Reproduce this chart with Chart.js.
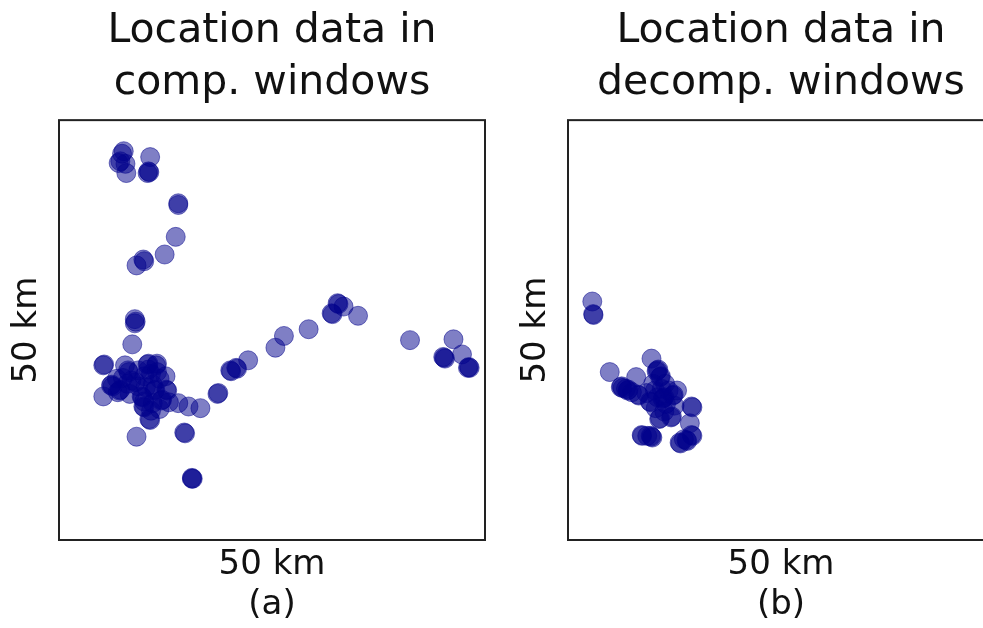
<!DOCTYPE html>
<html>
<head>
<meta charset="utf-8">
<script src="https://cdn.jsdelivr.net/npm/chart.js@4"></script>
<style>
  html, body { margin: 0; padding: 0; background: #fff; }
  #wrap { position: relative; width: 983px; height: 628px; overflow: hidden; background: #fff; }
  canvas { position: absolute; top: 0; }
  #c1 { left: 0; }
  #c2 { left: 509px; }
</style>
</head>
<body>
<div id="wrap">
  <canvas id="c1" width="544" height="628"></canvas>
  <canvas id="c2" width="544" height="628"></canvas>
</div>
<script>
// posiciones en km dentro de la ventana de 50 km x 50 km
// (a) ventanas de compresión
const compX = [
  7.6, 7.4, 7.2, 7.0, 7.8, 7.9, 10.7, 10.5, 10.4, 10.6, 14.0, 14.0, 13.7, 12.4, 9.9, 10.0, 9.1,
  8.9, 9.0, 8.9, 8.6,
  5.2, 5.3, 7.75, 8.1, 8.2, 10.5, 10.4, 11.5, 11.4, 6.2, 6.1, 6.3, 7.2, 7.1, 5.2, 9.3, 9.7, 9.8,
  9.9, 10.0, 11.3, 11.2, 12.1, 12.0, 12.6, 12.7, 10.7, 10.6, 14.0, 15.2, 16.6, 18.7, 18.6,
  8.5, 9.0, 10.0, 10.8, 11.8, 12.5, 10.2, 11.0, 8.0, 6.8, 7.5, 9.3, 10.0, 11.0, 11.8, 10.8,
  12.9, 6.9, 8.3, 10.5, 11.5,
  9.1, 14.8, 14.7, 15.6, 15.7, 15.6,
  20.2, 20.1, 20.9, 20.8, 22.2, 25.4, 26.4, 29.3, 32.0, 32.1, 32.7, 32.8, 33.4, 35.1,
  41.2, 46.3, 45.2, 45.3, 45.1, 47.3, 48.1, 48.2, 48.0
];
const compY = [
  46.3, 46.0, 45.1, 44.9, 44.8, 43.7, 45.6, 43.9, 43.7, 43.8, 40.1, 39.9, 36.1, 34.0, 33.4, 33.2, 32.7,
  26.3, 26.0, 25.8, 23.3,
  20.8, 20.9, 20.8, 20.2, 20.0, 21.0, 20.9, 21.0, 20.8, 18.5, 18.4, 18.3, 17.9, 17.8, 17.1, 18.3, 17.1, 17.0,
  15.9, 15.8, 17.9, 17.8, 16.7, 16.6, 17.9, 17.8, 14.3, 14.4, 16.3, 15.9, 15.7, 17.5, 17.4,
  19.0, 18.8, 19.5, 19.8, 19.2, 19.5, 18.2, 18.5, 18.6, 19.2, 19.3, 20.2, 16.5, 16.3, 15.6, 15.4,
  16.4, 17.6, 17.4, 20.3, 20.0,
  12.3, 12.7, 12.8, 7.4, 7.3, 7.3,
  20.1, 20.2, 20.4, 20.5, 21.4, 22.9, 24.3, 25.1, 27.0, 26.9, 28.2, 28.1, 27.8, 26.7,
  23.8, 23.9, 21.7, 21.6, 21.8, 22.1, 20.6, 20.5, 20.5
];

// (b) ventanas de descompresión
const decompX = [
  2.85, 2.95, 3.0, 4.9, 6.3, 6.2, 6.4, 7.1, 7.0, 8.0, 8.25, 8.3, 9.8, 10.5, 10.4, 10.6, 10.8, 10.9,
  11.2, 11.1, 11.3, 12.4, 12.3, 9.6, 9.7, 10.8, 10.7, 12.2, 12.1, 14.5, 14.6, 14.3,
  10.2, 11.0, 11.8, 10.5, 11.5, 12.5, 10.3, 11.3, 12.8, 9.2, 10.0, 11.4, 6.8, 7.5,
  8.65, 8.7, 9.8, 9.9, 9.7, 9.3, 13.9, 14.0, 14.5, 14.6, 13.2, 13.1, 13.6
];
const decompY = [
  28.4, 26.9, 26.8, 20.0, 18.3, 18.2, 18.1, 17.9, 17.8, 19.4, 17.3, 17.2, 21.6, 20.2, 20.1, 20.3, 19.4, 19.5,
  16.9, 16.8, 17.0, 17.3, 17.2, 16.5, 16.4, 14.5, 14.4, 14.7, 14.6, 15.9, 15.8, 13.9,
  17.8, 18.0, 17.8, 17.0, 16.2, 16.0, 15.7, 15.3, 17.8, 17.5, 18.6, 18.6, 18.0, 17.6,
  12.5, 12.4, 12.3, 12.2, 12.4, 12.4, 11.9, 11.8, 12.5, 12.4, 11.5, 11.6, 12.0
];

const titulos = [
  ['Location data in', 'comp. windows'],
  ['Location data in', 'decomp. windows']
];
const etiquetaX = [['50 km', '(a)'], ['50 km', '(b)']];
const etiquetaY = '50 km';
const ladoKm = 50;

const fuente = "'DejaVu Sans', sans-serif";

// marco negro alrededor del área del gráfico
const marco = {
  id: 'marco',
  afterDraw(chart) {
    const a = chart.chartArea;
    const ctx = chart.ctx;
    ctx.save();
    ctx.strokeStyle = '#222';
    ctx.lineWidth = 2;
    ctx.strokeRect(a.left, a.top, a.right - a.left, a.bottom - a.top);
    ctx.restore();
  }
};

function puntos(xs, ys) {
  return xs.map((x, i) => ({x: x, y: ys[i]}));
}

function crearGrafica(id, xs, ys, titulo, xLabel) {
  const ctx = document.getElementById(id).getContext('2d');
  return new Chart(ctx, {
    type: 'scatter',
    data: {
      datasets: [{
        data: puntos(xs, ys),
        backgroundColor: 'rgba(0,0,139,0.5)',
        borderColor: 'rgba(0,0,139,0.5)',
        borderWidth: 1,
        pointRadius: 9.5,
        pointHoverRadius: 9.5
      }]
    },
    options: {
      responsive: false,
      animation: false,
      layout: { padding: 0 },
      plugins: {
        legend: { display: false },
        tooltip: { enabled: false },
        title: {
          display: true,
          text: titulo,
          color: '#111',
          font: { family: fuente, size: 41, weight: 'normal', lineHeight: 1.27 },
          padding: { top: 5, bottom: 11 }
        }
      },
      scales: {
        x: {
          type: 'linear',
          min: 0, max: ladoKm,
          grid: { display: false },
          border: { display: false },
          ticks: { display: false },
          title: {
            display: true,
            text: xLabel,
            color: '#111',
            font: { family: fuente, size: 34, lineHeight: 1.2 },
            padding: { top: 0, bottom: 2 }
          },
          afterFit(s) { s.height = 88; }
        },
        y: {
          type: 'linear',
          min: 0, max: ladoKm,
          grid: { display: false },
          border: { display: false },
          ticks: { display: false },
          title: {
            display: true,
            text: etiquetaY,
            color: '#111',
            font: { family: fuente, size: 34, lineHeight: 1.2 },
            padding: { top: 7, bottom: 0 }
          },
          afterFit(s) { s.width = 59; }
        },
        // eje vacío a la derecha para centrar el título sobre el área
        y2: {
          type: 'linear',
          position: 'right',
          display: true,
          grid: { display: false },
          border: { display: false },
          ticks: { display: false },
          afterFit(s) { s.width = 59; }
        }
      }
    },
    plugins: [marco]
  });
}

crearGrafica('c1', compX, compY, titulos[0], etiquetaX[0]);
crearGrafica('c2', decompX, decompY, titulos[1], etiquetaX[1]);
</script>
</body>
</html>
